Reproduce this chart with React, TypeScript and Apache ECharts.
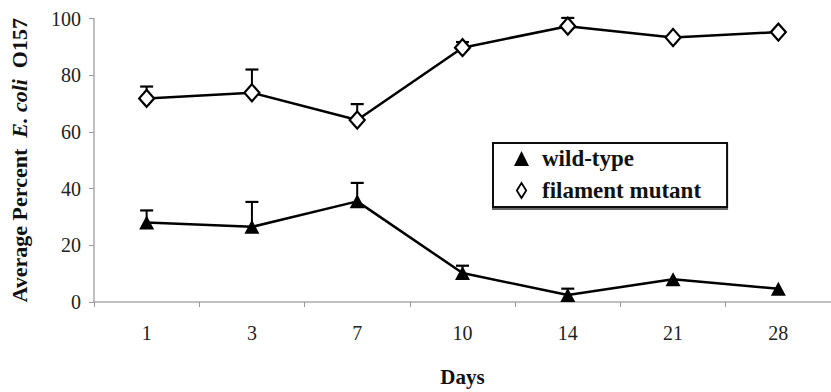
import React, { useEffect, useRef } from "react";
import * as echarts from "echarts";

const days = ["1", "3", "7", "10", "14", "21", "28"];
const wildType = [28, 26.5, 35.5, 10.2, 2.5, 8, 4.7];
const wildTypeErr = [4.3, 8.8, 6.5, 2.6, 2.2, 0, 0];
const filament = [71.8, 73.8, 64.2, 89.7, 97.3, 93.3, 95.2];
const filamentErr = [4.2, 8.2, 5.6, 2.0, 2.9, 0, 0];
const yTicks = [0, 20, 40, 60, 80, 100];

const serif = "Liberation Serif, Times New Roman, serif";

function errorSeries(name: string, vals: number[], errs: number[]) {
  return {
    type: "custom",
    name: name + "-err",
    silent: true,
    z: 1,
    data: vals.map((v, i) => [i, v, v + errs[i]]),
    renderItem: (params: any, api: any) => {
      const idx = api.value(0);
      const lo = api.coord([idx, api.value(1)]);
      const hi = api.coord([idx, api.value(2)]);
      if (api.value(2) - api.value(1) < 0.5) return { type: "group", children: [] };
      const half = 6.5;
      return {
        type: "group",
        children: [
          {
            type: "line",
            shape: { x1: lo[0], y1: lo[1], x2: hi[0], y2: hi[1] },
            style: { stroke: "#000", lineWidth: 2 },
          },
          {
            type: "line",
            shape: { x1: hi[0] - half, y1: hi[1], x2: hi[0] + half, y2: hi[1] },
            style: { stroke: "#000", lineWidth: 2.2 },
          },
        ],
      };
    },
  };
}

export default function App() {
  const ref = useRef<HTMLDivElement>(null);
  useEffect(() => {
    if (!ref.current) return;
    const chart = echarts.init(ref.current, undefined, { renderer: "svg" });
    chart.setOption({
      animation: false,
      backgroundColor: "#fff",
      grid: { left: 92, top: 18.5, width: 745, height: 288 },
      legend: {
        orient: "vertical",
        left: 493,
        top: 143,
        padding: [4, 26, 5, 21],
        itemGap: 9,
        itemWidth: 15,
        itemHeight: 15,
        borderColor: "#111",
        borderWidth: 2,
        shadowColor: "rgba(0,0,0,0.6)",
        shadowOffsetX: 0,
        shadowOffsetY: 2,
        shadowBlur: 0,
        backgroundColor: "#fff",
        textStyle: {
          fontFamily: serif,
          fontWeight: "bold",
          fontSize: 23,
          lineHeight: 23,
          color: "#111",
          padding: [0, 0, 0, 8],
        },
        data: [
          { name: "wild-type", icon: "triangle" },
          { name: "filament mutant", icon: "path://M5,0 L10,8 L5,16 L0,8 Z", itemStyle: { color: "#fff", borderColor: "#000", borderWidth: 1.8 } },
        ],
      },
      xAxis: {
        type: "category",
        data: days,
        boundaryGap: true,
        name: "Days",
        nameLocation: "middle",
        nameGap: 64,
        nameTextStyle: { fontFamily: serif, fontWeight: "bold", fontSize: 21, color: "#111" },
        axisLine: { lineStyle: { color: "#aaa", width: 1.5 } },
        axisTick: { show: true, length: 5, lineStyle: { color: "#999" } },
        axisLabel: { fontFamily: serif, fontSize: 20, color: "#222", margin: 21 },
      },
      yAxis: {
        type: "value",
        min: 0,
        max: 100,
        interval: 20,
        name: "{a|Average Percent  }{i|E. coli}{a|  O157}",
        nameLocation: "middle",
        nameGap: 64,
        nameRotate: 90,
        nameTextStyle: {
          rich: {
            a: { fontFamily: serif, fontWeight: "bold", fontSize: 22, color: "#111" },
            i: { fontFamily: serif, fontWeight: "bold", fontStyle: "italic", fontSize: 22, color: "#111" },
          },
        },
        splitLine: { show: false },
        axisLine: { show: true, lineStyle: { color: "#aaa", width: 1.5 } },
        axisTick: { show: true, length: 5, lineStyle: { color: "#999" } },
        axisLabel: {
          fontFamily: serif,
          fontSize: 20,
          color: "#222",
          margin: 13,
          formatter: (v: number) => (yTicks.includes(v) ? String(v) : ""),
        },
      },
      series: [
        errorSeries("wild-type", wildType, wildTypeErr),
        errorSeries("filament mutant", filament, filamentErr),
        {
          type: "line",
          name: "wild-type",
          data: wildType,
          symbol: "triangle",
          symbolSize: [15, 14],
          z: 3,
          lineStyle: { color: "#000", width: 2.5 },
          itemStyle: { color: "#000", borderColor: "#000", borderWidth: 0 },
        },
        {
          type: "line",
          name: "filament mutant",
          data: filament,
          symbol: "diamond",
          symbolSize: [15, 17],
          showAllSymbol: true,
          z: 3,
          lineStyle: { color: "#000", width: 2.5 },
          itemStyle: { color: "#fff", borderColor: "#000", borderWidth: 2.2 },
        },
      ],
    });
    return () => chart.dispose();
  }, []);
  return <div ref={ref} style={{ width: 831, height: 392, position: "absolute", left: 0, top: 0 }} />;
}
